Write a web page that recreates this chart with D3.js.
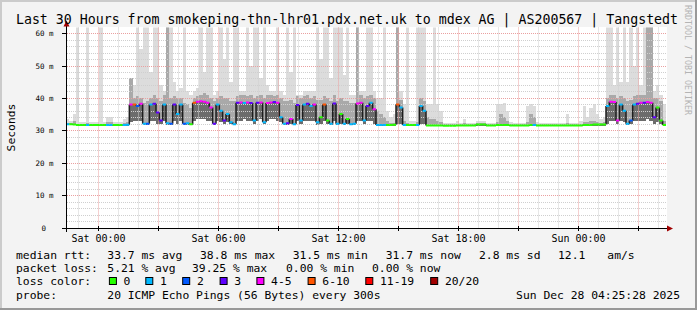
<!DOCTYPE html>
<html>
<head>
<meta charset="utf-8">
<script src="https://cdn.jsdelivr.net/npm/d3@7"></script>
<style>
  body { margin: 0; background: #f3f3f3; }
  svg { display: block; }
  text { font-family: "DejaVu Sans Mono", monospace; }
</style>
</head>
<body>
<div id="chart"></div>
<script>

// ---- data (10 minute steps) ----
var startTime = new Date(2025, 11, 26, 22, 25, 28);
var endTime   = new Date(2025, 11, 28, 4, 25, 28);
var stepMinutes = 10;

var median = [
  31.9,31.9,31.8,31.6,31.6,31.6,31.6,31.6,31.6,31.6,
  31.6,31.6,31.6,31.6,31.6,31.6,31.6,31.6,31.7,38.0,
  38.0,37.5,38.2,32.0,32.0,38.0,38.2,35.5,33.0,38.0,
  32.2,32.0,38.0,35.0,38.0,32.0,32.2,31.9,38.5,38.8,
  39.0,38.8,38.5,37.0,32.0,38.0,36.0,33.0,35.0,32.5,
  31.9,38.5,38.6,38.4,38.6,38.4,33.0,38.5,38.6,32.5,
  38.4,38.6,38.7,38.5,34.0,32.0,32.2,33.5,31.9,37.8,
  33.0,38.0,38.2,37.5,38.0,32.5,34.0,38.0,33.0,32.0,
  38.3,32.0,35.0,32.0,33.5,31.9,32.0,38.3,38.5,33.0,
  37.5,38.5,36.5,31.6,31.6,31.6,31.6,31.6,31.7,38.0,
  37.0,31.6,31.6,31.6,31.6,31.6,37.5,36.0,31.5,31.5,
  31.5,31.5,31.5,31.4,31.4,31.4,31.4,31.5,31.5,31.5,
  31.5,31.5,31.5,31.8,31.8,31.8,31.5,31.5,31.5,31.6,
  31.6,31.6,31.6,31.5,31.5,31.5,31.5,31.5,31.5,31.6,
  31.6,31.5,31.5,31.5,31.5,31.5,31.5,31.5,31.5,31.5,
  31.5,31.5,31.5,31.5,31.5,31.6,31.6,31.6,31.8,31.8,
  31.8,31.8,37.5,38.8,38.7,33.0,38.0,36.0,32.0,33.0,
  38.0,38.2,38.5,38.5,38.7,38.5,34.0,37.0,33.0,31.6
];

// index into lossColors
var lossClass = [
  1,0,0,0,0,0,1,0,0,0,
  0,0,1,1,0,0,0,1,1,4,
  5,2,4,1,2,1,3,3,3,1,
  1,2,3,1,1,2,1,0,5,4,
  4,4,4,4,3,1,1,3,1,1,
  1,3,4,1,4,3,1,3,4,1,
  4,4,3,4,1,1,3,4,1,3,
  1,1,3,1,4,1,0,5,0,1,
  3,1,0,1,0,1,1,4,4,1,
  3,1,4,1,1,1,0,0,0,5,
  1,1,0,0,0,1,1,1,0,0,
  0,0,0,0,0,0,0,0,0,0,
  0,0,0,0,0,0,0,0,0,0,
  0,0,0,0,0,0,0,0,0,0,
  1,0,0,0,0,0,0,0,0,0,
  0,0,0,0,0,0,0,0,0,0,
  0,0,1,4,4,4,1,1,1,2,
  1,3,4,3,4,4,3,0,0,0
];

// smoke: lowest ping, upper edge of the dense part, highest ping
var smokeLo = [
  31.5,31.5,31.5,31.4,31.4,31.4,31.4,31.4,31.4,31.4,
  31.4,31.4,31.4,31.4,31.4,31.4,31.4,31.4,31.4,32.5,
  33.0,33.0,33.0,31.6,31.6,33.0,33.0,32.0,31.8,33.0,
  31.6,31.6,33.0,32.0,33.0,31.6,31.6,31.6,33.0,33.5,
  33.5,33.5,33.0,33.0,31.6,33.0,32.5,32.0,32.5,31.8,
  31.6,33.0,33.0,33.5,33.0,33.0,32.0,33.0,33.5,31.8,
  33.0,33.5,33.5,33.0,32.5,31.6,31.6,31.8,31.6,33.0,
  32.0,33.0,33.0,33.0,33.0,31.6,32.0,33.0,32.0,31.6,
  33.0,31.6,32.0,31.6,31.8,31.6,31.6,33.0,33.0,32.0,
  33.0,33.0,32.0,31.4,31.4,31.4,31.4,31.4,31.4,32.0,
  32.0,31.4,31.4,31.4,31.4,31.4,32.0,32.0,31.3,31.3,
  31.3,31.3,31.3,31.3,31.3,31.3,31.3,31.3,31.3,31.3,
  31.3,31.3,31.3,31.3,31.3,31.3,31.3,31.3,31.3,31.3,
  31.3,31.3,31.3,31.3,31.3,31.3,31.3,31.3,31.3,31.3,
  31.3,31.3,31.3,31.3,31.3,31.3,31.3,31.3,31.3,31.3,
  31.3,31.3,31.3,31.3,31.3,31.3,31.3,31.3,31.3,31.3,
  31.4,31.4,32.0,33.0,33.0,32.0,33.0,32.5,31.6,31.8,
  33.0,33.0,33.0,33.0,33.5,33.0,32.0,32.5,31.8,31.4
];

var smokeMid = [
  32.3,32.3,33.0,32.0,32.0,32.0,32.4,32.0,32.0,32.0,
  32.0,32.0,32.5,32.5,32.0,32.0,32.0,32.3,32.6,46.0,
  40.0,40.5,40.0,38.5,39.0,40.0,41.0,40.0,39.0,41.0,
  70,40.0,40.5,40.0,40.0,38.5,38.0,37.0,40.0,40.5,
  41.0,41.5,41.0,40.0,39.0,40.0,40.5,40.0,40.0,39.0,
  39.0,40.5,41.0,41.0,40.5,41.0,40.0,40.5,41.0,40.0,
  41.0,41.0,40.5,41.0,40.0,39.0,39.0,39.5,38.5,40.5,
  40.0,40.5,41.0,40.0,40.5,39.5,39.5,40.5,40.0,39.0,
  41.0,39.0,40.0,39.0,39.0,38.5,38.5,70,41.0,40.0,
  40.5,41.0,40.0,36.0,35.0,34.0,33.0,32.2,32.4,70,
  39.5,33.0,32.2,32.0,32.0,32.5,40.0,39.0,34.0,33.5,
  33.5,33.0,32.5,32.0,31.9,31.9,31.9,31.9,31.9,32.3,
  31.9,31.9,31.9,32.2,32.2,32.2,31.9,31.9,31.9,32.5,
  35.0,34.0,33.0,32.0,31.9,31.9,31.9,31.9,32.5,35.0,
  34.0,32.0,31.9,31.9,31.9,31.9,31.9,31.9,31.9,31.9,
  32.3,31.9,31.9,31.9,31.9,32.5,32.5,32.8,33.0,32.5,
  32.4,32.6,40.0,41.0,41.0,40.0,40.5,40.0,39.0,39.5,
  40.5,41.0,41.0,41.0,70,70,40.0,40.0,39.0,33.0
];

var smokeHi = [
  33.5,33.0,35.0,70,32.6,32.6,70,32.6,32.6,32.6,
  70,32.6,34.0,34.0,32.6,32.6,32.6,33.5,34.0,46.0,
  44,70,55,70,70,48,70,62,44,42,
  70,70,45,42,43,70,42,41,42,43,
  70,48,70,70,41,42,70,52,70,45,
  70,70,42,42,70,50,70,70,46,70,
  44,42,42,70,42,41,70,48,70,41,
  41,42,42,42,42,70,52,70,70,46,
  70,70,70,47,70,41,41,70,42,42,
  70,70,42,40,40,70,36,34,35,70,
  42,38,70,33,33,70,70,70,38,38,
  70,38,36,32.4,32.4,32.4,32.4,33.0,32.4,33.5,
  32.4,32.4,32.4,33.0,32.8,32.8,32.4,32.4,32.4,38.0,
  38.0,38.5,36.0,32.5,32.4,32.4,32.4,32.4,37.5,38.0,
  37.5,32.5,32.4,32.4,32.4,32.4,32.4,32.4,32.4,32.4,
  35.0,32.4,32.4,32.4,33.0,37.5,34.0,37.0,38.0,35.0,
  33.5,34.0,70,70,44,70,45,70,45,70,
  50,70,44,70,70,70,42,44,41,38
];

var lossColors = ["#26ff00", "#00b8ff", "#0059ff", "#5e00ff", "#ff00fe", "#ff5500", "#ff0000", "#a10000"];
var lossLabels = ["0", "1", "2", "3", "4-5", "6-10", "11-19", "20/20"];

var yTicksMajor = [10, 20, 30, 40, 50, 60];
var yTickLabels = ["10 m", "20 m", "30 m", "40 m", "50 m", "60 m"];

var titleText = "Last 30 Hours from smokeping-thn-lhr01.pdx.net.uk to mdex AG | AS200567 | Tangstedt";
var rttItems  = ["33.7 ms avg", "38.8 ms max", "31.5 ms min", "31.7 ms now", "2.8 ms sd", "12.1", "am/s"];
var lossItems = ["5.21 % avg", "39.25 % max", "0.00 % min", "0.00 % now"];
var probeText = "20 ICMP Echo Pings (56 Bytes) every 300s";
var dateText  = "Sun Dec 28 04:25:28 2025";

// ---- layout ----
var W = 697, H = 310;
var rttX  = [107.3, 200, 292.7, 385.7, 479, 558, 607.3];
var lossX = [107.3, 192, 286, 372];
var boxX  = [108.9, 145.3, 182.2, 219.6, 256.4, 307.6, 365.3, 430.2];

var svg = d3.select("#chart").append("svg")
  .attr("width", W).attr("height", H);

// background + 3d frame
svg.append("rect").attr("width", W).attr("height", H).attr("fill", "#f3f3f3");
svg.append("rect").attr("x", 0).attr("y", 0).attr("width", W).attr("height", 2).attr("fill", "#cbcbcb");
svg.append("rect").attr("x", 0).attr("y", 0).attr("width", 2).attr("height", H).attr("fill", "#cbcbcb");
svg.append("rect").attr("x", 0).attr("y", H-2).attr("width", W).attr("height", 2).attr("fill", "#999999");
svg.append("rect").attr("x", W-2).attr("y", 0).attr("width", 2).attr("height", H).attr("fill", "#999999");

var x = d3.scaleTime().domain([startTime, endTime]).range([66, 666]);
var y = d3.scaleLinear().domain([0, 61.73]).range([227.5, 27.5]);

// canvas
svg.append("rect").attr("x", 66).attr("y", 27).attr("width", 601).attr("height", 201).attr("fill", "#ffffff");

svg.append("clipPath").attr("id", "plotclip")
  .append("rect").attr("x", 66).attr("y", 27.5).attr("width", 600).attr("height", 200.5);

var steps = median.map(function(m, i) {
  var t0 = d3.timeMinute.offset(startTime, i * stepMinutes);
  var t1 = d3.timeMinute.offset(startTime, (i + 1) * stepMinutes);
  return {t0: t0, t1: t1, m: m, loss: lossClass[i], lo: smokeLo[i], mid: smokeMid[i], hi: smokeHi[i]};
});

var gData = svg.append("g").attr("clip-path", "url(#plotclip)");

// smoke
function band(sel, top, fill) {
  sel.append("g").selectAll("rect").data(steps).join("rect")
    .attr("x", function(d) { return x(d.t0); })
    .attr("width", function(d) { return x(d.t1) - x(d.t0); })
    .attr("y", function(d) { return y(Math.max(top(d), d.lo)); })
    .attr("height", function(d) { return Math.max(0, y(d.lo) - y(Math.max(top(d), d.lo))); })
    .attr("fill", fill)
    .attr("shape-rendering", "crispEdges");
}
band(gData, function(d) { return d.hi; }, "#dcdcdc");
band(gData, function(d) { return d.mid; }, "#a9a9a9");
band(gData, function(d) { return d.m; }, "#6c6c6c");

// grid
var gGrid = svg.append("g").attr("fill", "none").attr("stroke-width", 1).attr("stroke-dasharray", "1,1");
var hours = d3.timeHour.range(startTime, endTime);
hours.forEach(function(h) {
  var px = Math.round(x(h)) + 0.5;
  gGrid.append("line")
    .attr("x1", px).attr("x2", px).attr("y1", 27.5).attr("y2", 228)
    .attr("stroke", h.getHours() % 3 === 0 ? "#eaa0a0" : "#cfcfcf");
});
d3.range(2, 62, 2).forEach(function(v) {
  var py = Math.round(y(v)) + 0.5;
  gGrid.append("line")
    .attr("x1", 67).attr("x2", 666).attr("y1", py).attr("y2", py)
    .attr("stroke", v % 10 === 0 ? "#eaa0a0" : "#cfcfcf");
});

// median line: dark jumps, then loss-coloured steps
var gMed = svg.append("g").attr("clip-path", "url(#plotclip)");
gMed.selectAll("line.jump").data(steps.slice(1)).join("line")
  .attr("class", "jump")
  .attr("x1", function(d) { return x(d.t0); })
  .attr("x2", function(d) { return x(d.t0); })
  .attr("y1", function(d, i) { return y(steps[i].m); })
  .attr("y2", function(d) { return y(d.m); })
  .attr("stroke", "#1e1e1e").attr("stroke-width", 1.5);
gMed.selectAll("line.med").data(steps).join("line")
  .attr("class", "med")
  .attr("x1", function(d) { return x(d.t0); })
  .attr("x2", function(d) { return x(d.t1); })
  .attr("y1", function(d) { return y(d.m); })
  .attr("y2", function(d) { return y(d.m); })
  .attr("stroke", function(d) { return lossColors[d.loss]; })
  .attr("stroke-width", 2);

// axes
var gAxis = svg.append("g");
gAxis.append("line").attr("x1", 62).attr("x2", 667).attr("y1", 228.5).attr("y2", 228.5).attr("stroke", "#000");
gAxis.append("line").attr("x1", 66.5).attr("x2", 66.5).attr("y1", 232).attr("y2", 26).attr("stroke", "#000");
gAxis.append("path").attr("d", "M667,225.5L673,228.5L667,231.5Z").attr("fill", "#a00000");
gAxis.append("path").attr("d", "M63.5,26.5L66.5,20.5L69.5,26.5Z").attr("fill", "#a00000");

hours.filter(function(h) { return h.getHours() % 3 === 0; }).forEach(function(h) {
  var px = Math.round(x(h)) + 0.5;
  gAxis.append("line").attr("x1", px).attr("x2", px).attr("y1", 226).attr("y2", 231).attr("stroke", "#000");
});
yTicksMajor.forEach(function(v) {
  var py = Math.round(y(v)) + 0.5;
  gAxis.append("line").attr("x1", 62).attr("x2", 66).attr("y1", py).attr("y2", py).attr("stroke", "#000");
});

// tick labels
var fmt = d3.timeFormat("%a %H:%M");
hours.filter(function(h) { return h.getHours() % 6 === 0; }).forEach(function(h) {
  svg.append("text").attr("x", Math.round(x(h)) + 0.5).attr("y", 241.5)
    .attr("text-anchor", "middle").attr("font-size", "10px").attr("fill", "#000")
    .text(fmt(h));
});
yTicksMajor.forEach(function(v, i) {
  svg.append("text").attr("x", 53.5).attr("y", y(v) + 3)
    .attr("text-anchor", "end").attr("font-size", "7.5px").attr("fill", "#000")
    .text(yTickLabels[i]);
});
svg.append("text").attr("x", 46).attr("y", y(0) + 3)
  .attr("text-anchor", "end").attr("font-size", "7.5px").attr("fill", "#000").text("0");

// title, unit, watermark
svg.append("text").attr("x", 347).attr("y", 24).attr("text-anchor", "middle")
  .attr("font-size", "13.25px").attr("fill", "#000").text(titleText);
svg.append("text").attr("transform", "translate(15,127.5) rotate(-90)")
  .attr("text-anchor", "middle").attr("font-size", "11.35px").attr("fill", "#000").text("Seconds");
svg.append("text").attr("transform", "translate(685,5) rotate(90)")
  .attr("font-size", "8.3px").attr("fill", "#b4b4b4").text("RRDTOOL / TOBI OETIKER");

// legend
var lg = svg.append("g").attr("font-size", "11.35px").attr("fill", "#000");
var rowY = [258.5, 272, 285.3, 299];
lg.append("text").attr("x", 16).attr("y", rowY[0]).text("median rtt:");
rttItems.forEach(function(s, i) { lg.append("text").attr("x", rttX[i]).attr("y", rowY[0]).text(s); });
lg.append("text").attr("x", 16).attr("y", rowY[1]).text("packet loss:");
lossItems.forEach(function(s, i) { lg.append("text").attr("x", lossX[i]).attr("y", rowY[1]).text(s); });
lg.append("text").attr("x", 16).attr("y", rowY[2]).text("loss color:");
lossLabels.forEach(function(s, i) {
  lg.append("rect").attr("x", boxX[i] + 0.5).attr("y", 277.5).attr("width", 7).attr("height", 7)
    .attr("fill", lossColors[i]).attr("stroke", "#000").attr("stroke-width", 1);
  lg.append("text").attr("x", boxX[i] + 14.7).attr("y", rowY[2]).text(s);
});
lg.append("text").attr("x", 16).attr("y", rowY[3]).text("probe:");
lg.append("text").attr("x", 107.3).attr("y", rowY[3]).text(probeText);
lg.append("text").attr("x", 680).attr("y", rowY[3]).attr("text-anchor", "end").text(dateText);

</script>
</body>
</html>
